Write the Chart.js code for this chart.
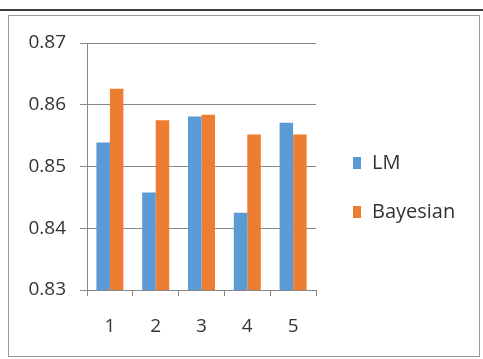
<!DOCTYPE html>
<html>
<head>
<meta charset="utf-8">
<script src="https://cdn.jsdelivr.net/npm/chart.js@4/dist/chart.umd.min.js"></script>
<style>
  html, body { margin: 0; padding: 0; background: #fff; }
  body { width: 483px; height: 359px; position: relative; overflow: hidden; }
  .topline { position: absolute; left: 0; top: 9px; width: 483px; height: 2px; background: #3c3c3c; }
  .frame {
    position: absolute; left: 8px; top: 15px; width: 472px; height: 342px;
    box-sizing: border-box; border: 1px solid #9a9a9a; background: #fff;
  }
  .frame canvas { position: absolute; left: 0; top: 0; }
</style>
</head>
<body>
<div class="topline"></div>
<div class="frame">
  <canvas id="chart" width="470" height="340"></canvas>
</div>
<script>
// runs 1..5, accuracy of each model
const categories = ["1", "2", "3", "4", "5"];
const lmValues = [0.8539, 0.8458, 0.8581, 0.8425, 0.8571];
const bayesianValues = [0.8626, 0.8575, 0.8584, 0.8552, 0.8552];
const yTicks = [0.83, 0.84, 0.85, 0.86, 0.87];

const BLUE = "#5B9BD5";
const ORANGE = "#ED7D31";
const TEXT = "#333333";
const GRID = "#888888";
const FONT = "'Open Sans', 'Liberation Sans', sans-serif";

// simple legend on the right, one swatch per dataset
const sideLegend = {
  id: "sideLegend",
  afterDraw(chart) {
    const ctx = chart.ctx;
    const x = 344;
    const rows = [147, 196];
    ctx.save();
    ctx.font = "20px " + FONT;
    ctx.textBaseline = "middle";
    ctx.textAlign = "left";
    chart.data.datasets.forEach((ds, i) => {
      const y = rows[i];
      ctx.fillStyle = ds.backgroundColor;
      ctx.fillRect(x, y - 6, 8, 12);
      ctx.fillStyle = TEXT;
      ctx.fillText(ds.label, x + 19, y);
    });
    ctx.restore();
  },
};

const ctx = document.getElementById("chart").getContext("2d");
new Chart(ctx, {
  type: "bar",
  data: {
    labels: categories,
    datasets: [
      { label: "LM", data: lmValues, backgroundColor: BLUE },
      { label: "Bayesian", data: bayesianValues, backgroundColor: ORANGE },
    ],
  },
  options: {
    responsive: false,
    animation: false,
    layout: { padding: { top: 27, right: 163, bottom: 16, left: 0 } },
    datasets: {
      bar: { barPercentage: 1.0, categoryPercentage: 0.59, borderWidth: 0 },
    },
    plugins: {
      legend: { display: false },
      tooltip: { enabled: false },
    },
    scales: {
      x: {
        afterFit(scale) { scale.height = 50; },
        grid: {
          offset: true,
          drawOnChartArea: false,
          drawTicks: true,
          tickLength: 6,
          color: GRID,
        },
        border: { color: GRID, width: 1 },
        ticks: { color: TEXT, padding: 19, font: { family: FONT, size: 19 } },
      },
      y: {
        min: yTicks[0],
        max: yTicks[yTicks.length - 1],
        afterFit(scale) { scale.width = 78; },
        afterBuildTicks(scale) {
          scale.ticks = yTicks.map((v) => ({ value: v }));
        },
        grid: { color: GRID, tickLength: 7 },
        border: { color: GRID, width: 1 },
        ticks: {
          color: TEXT,
          padding: 14,
          font: { family: FONT, size: 19 },
          callback: (v) => Number(v).toFixed(2),
        },
      },
    },
  },
  plugins: [sideLegend],
});
</script>
</body>
</html>
